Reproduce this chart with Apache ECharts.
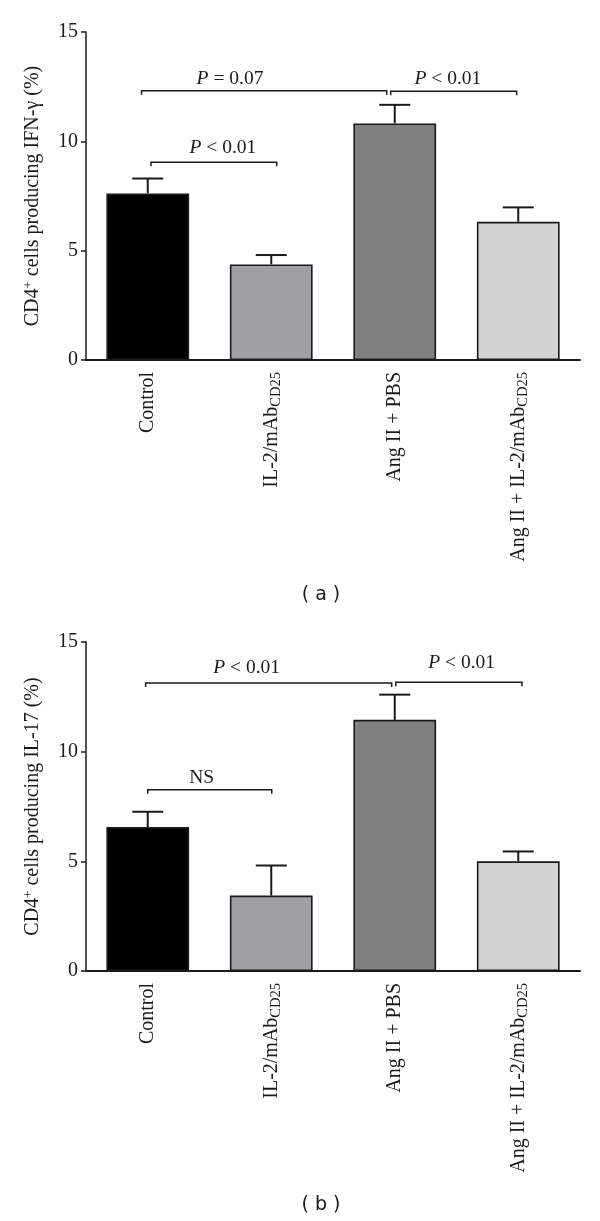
<!DOCTYPE html>
<html>
<head>
<meta charset="utf-8">
<script src="https://cdn.jsdelivr.net/npm/echarts@6/dist/echarts.min.js"></script>
<style>
html,body{margin:0;padding:0;background:#fff;}
#c{width:600px;height:1221px;}
</style>
</head>
<body>
<div id="c"></div>
<script>
// ---- data ----
const categories = ['Control', 'IL-2/mAb|CD25', 'Ang II + PBS', 'Ang II + IL-2/mAb|CD25'];
const barColors = ['#000000', '#a09fa4', '#808080', '#d3d3d3'];
const yTicks = [0, 5, 10, 15];

// panel (a): IFN-gamma
const ifnMean = [7.62, 4.37, 10.82, 6.32];
const ifnErr  = [0.68, 0.43, 0.85, 0.66];
// panel (b): IL-17
const il17Mean = [6.56, 3.44, 11.45, 5.00];
const il17Err  = [0.70, 1.37, 1.15, 0.45];

// significance brackets: [xStart, xEnd, yLevel, labelX, labelY] (x in category units)
const ifnBrackets = [
  [-0.05, 1.935, 12.31, 0.666, 12.85],
  [1.967, 2.987, 12.29, 2.431, 12.85],
  [0.026, 1.044, 9.04, 0.609, 9.71]
];
const ifnBracketText = ['{i|P} = 0.07', '{i|P} < 0.01', '{i|P} < 0.01'];
const il17Brackets = [
  [-0.017, 1.975, 13.13, 0.801, 13.81],
  [2.008, 3.03, 13.16, 2.542, 14.07],
  [0.0, 1.004, 8.26, 0.437, 8.80]
];
const il17BracketText = ['{i|P} < 0.01', '{i|P} < 0.01', 'NS'];

const yNames = ['CD4{sup|+} cells producing IFN-γ (%)', 'CD4{sup|+} cells producing IL-17 (%)'];
const panelTags = ['( a )', '( b )'];

// ---- chart ----
const SERIF = '"Liberation Serif", "DejaVu Serif", serif';
const ink = '#1a1a1a';
const chart = echarts.init(document.getElementById('c'), null, {renderer: 'canvas'});

function catFormatter(v) {
  const parts = v.split('|');
  if (parts.length === 2) return '{n|' + parts[0] + '}{s|' + parts[1] + '}';
  return '{n|' + v + '}';
}

const grids = [
  {left: 86, top: 32, width: 494, height: 328},
  {left: 86, top: 642, width: 494, height: 329}
];

const xAxes = [], yAxes = [], series = [];
const means = [ifnMean, il17Mean];
const errs = [ifnErr, il17Err];
const brackets = [ifnBrackets, il17Brackets];
const bracketTexts = [ifnBracketText, il17BracketText];

for (let g = 0; g < 2; g++) {
  xAxes.push({
    type: 'category', gridIndex: g, data: categories,
    axisLine: {onZero: false, lineStyle: {color: ink, width: 2}},
    axisTick: {alignWithLabel: true, length: 5, lineStyle: {color: ink, width: 1.5}},
    axisLabel: {
      rotate: 90, margin: 12, color: ink, fontFamily: SERIF, fontSize: 20,
      formatter: catFormatter,
      rich: {
        n: {fontFamily: SERIF, fontSize: 20, color: ink},
        s: {fontFamily: SERIF, fontSize: 14.5, color: ink, verticalAlign: 'bottom', padding: [9, 0, 0, 0]}
      }
    }
  });
  xAxes.push({type: 'value', gridIndex: g, min: -0.5, max: 3.5, show: false});
  yAxes.push({
    type: 'value', gridIndex: g, min: yTicks[0], max: yTicks[yTicks.length - 1], interval: 5,
    splitLine: {show: false},
    axisLine: {show: true, onZero: false, lineStyle: {color: ink, width: 1.5}},
    axisTick: {show: true, length: 5, lineStyle: {color: ink, width: 1.5}},
    axisLabel: {color: ink, fontFamily: SERIF, fontSize: 20, margin: 8},
    name: yNames[g], nameLocation: 'middle', nameGap: 42,
    nameTextStyle: {
      color: ink, fontFamily: SERIF, fontSize: 20,
      rich: {sup: {fontFamily: SERIF, fontSize: 13, color: ink, verticalAlign: 'top', padding: [0, 0, 9, 0]}}
    }
  });

  series.push({
    type: 'bar', xAxisIndex: 2 * g, yAxisIndex: g, barWidth: '67%', z: 3,
    data: means[g].map((v, i) => ({value: v, itemStyle: {color: barColors[i]}})),
    itemStyle: {borderColor: ink, borderWidth: 1.6}
  });

  series.push({
    type: 'custom', xAxisIndex: 2 * g, yAxisIndex: g, z: 2,
    data: means[g].map((v, i) => [i, v, v + errs[g][i]]),
    renderItem: function (params, api) {
      const b = api.coord([api.value(0), api.value(1)]);
      const t = api.coord([api.value(0), api.value(2)]);
      const cap = 15.5;
      return {type: 'group', children: [
        {type: 'line', shape: {x1: b[0], y1: b[1], x2: t[0], y2: t[1]}, style: {stroke: ink, lineWidth: 2}},
        {type: 'line', shape: {x1: t[0] - cap, y1: t[1], x2: t[0] + cap, y2: t[1]}, style: {stroke: ink, lineWidth: 2}}
      ]};
    }
  });

  const txt = bracketTexts[g];
  series.push({
    type: 'custom', xAxisIndex: 2 * g + 1, yAxisIndex: g, z: 4,
    data: brackets[g],
    renderItem: function (params, api) {
      const p1 = api.coord([api.value(0), api.value(2)]);
      const p2 = api.coord([api.value(1), api.value(2)]);
      const lp = api.coord([api.value(3), api.value(4)]);
      const tk = 4;
      return {type: 'group', children: [
        {type: 'polyline', shape: {points: [[p1[0], p1[1] + tk], [p1[0], p1[1]], [p2[0], p2[1]], [p2[0], p2[1] + tk]]},
          style: {stroke: ink, lineWidth: 1.5, fill: null}},
        {type: 'text', x: lp[0], y: lp[1], style: {
          text: txt[params.dataIndex], align: 'center', verticalAlign: 'middle',
          fontFamily: SERIF, fontSize: 19.5, fill: ink,
          rich: {i: {fontFamily: SERIF, fontSize: 19.5, fontStyle: 'italic', fill: ink}}
        }}
      ]};
    }
  });
}

chart.setOption({
  animation: false,
  backgroundColor: '#ffffff',
  grid: grids,
  xAxis: xAxes,
  yAxis: yAxes,
  series: series,
  graphic: [
    {type: 'text', x: 321, y: 595, style: {text: panelTags[0], align: 'center', verticalAlign: 'middle', font: '19px "DejaVu Sans", sans-serif', fill: ink}},
    {type: 'text', x: 321, y: 1205, style: {text: panelTags[1], align: 'center', verticalAlign: 'middle', font: '19px "DejaVu Sans", sans-serif', fill: ink}}
  ]
});
</script>
</body>
</html>
